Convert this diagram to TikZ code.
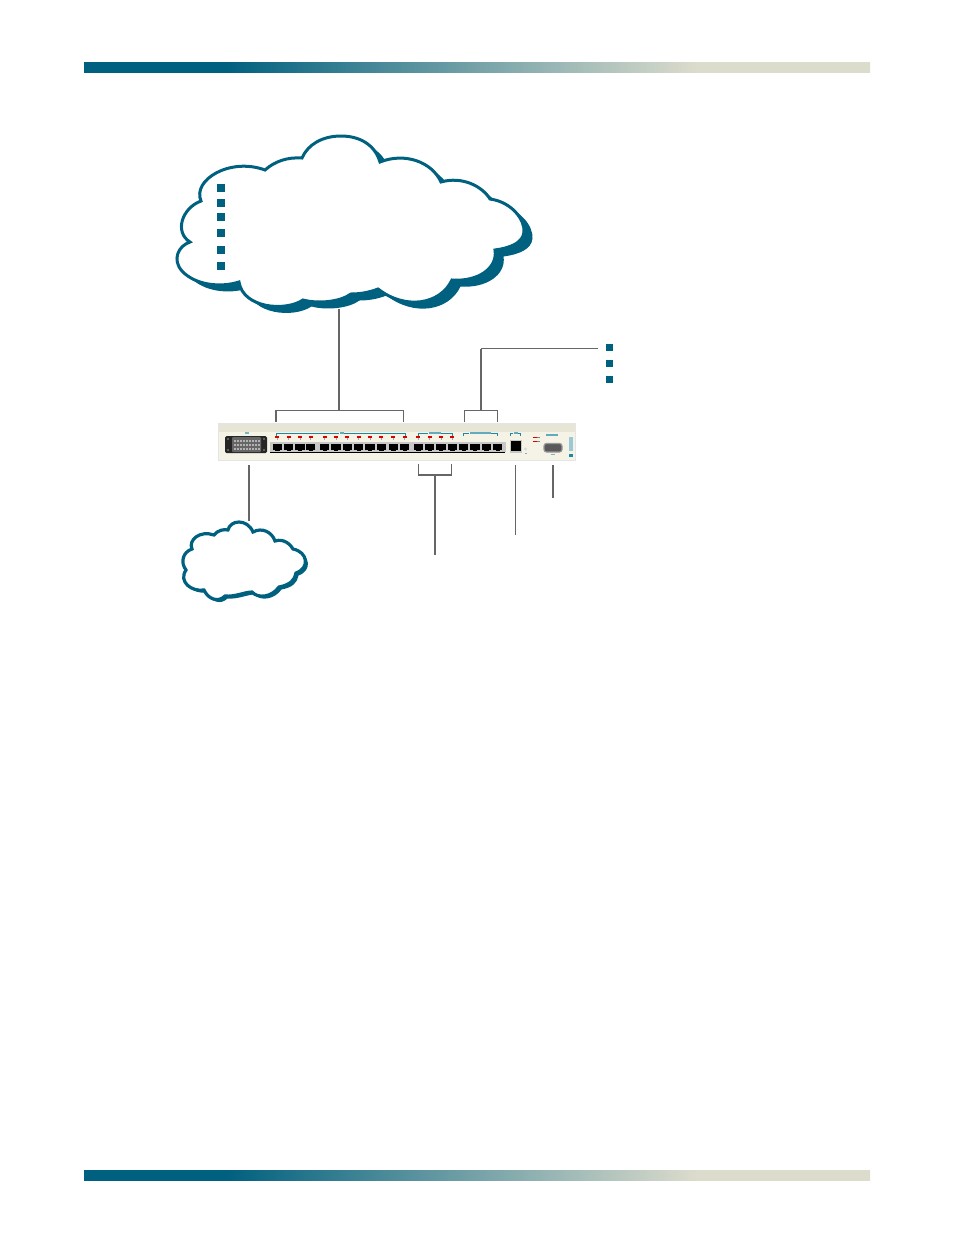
\documentclass[tikz,border=0pt]{standalone}
\definecolor{tealblue}{HTML}{00607F}
\definecolor{sand}{HTML}{DCDCCC}
\definecolor{wire}{HTML}{666666}
\definecolor{faceplate}{HTML}{F5F3E6}
\definecolor{faceband}{HTML}{E6E5D6}
\definecolor{markblue}{HTML}{1F86A5}
\pgfdeclarehorizontalshading{barshade}{100bp}{color(0bp)=(tealblue); color(34bp)=(tealblue); color(64bp)=(sand); color(100bp)=(sand)}
\tikzset{
  wireline/.style={wire, line width=2pt},
  bracketline/.style={wire, line width=1.3pt},
  thinwire/.style={wire, line width=1pt},
  bullet/.style={fill=tealblue},
  cloudline/.style={tealblue, fill=white, line join=miter},
  markline/.style={markblue, line width=0.8pt},
}
\begin{document}
\begin{tikzpicture}[x=1pt,y=-1pt]
    \useasboundingbox (0,0) rectangle (954,1235);
    % header and footer bars
    \foreach \ybar in {62,1170}
      \shade [shading=barshade] (84,\ybar) rectangle (870,\ybar+10);
    % connector from the big cloud
    \coordinate (bigcloud) at (339.3,309);
    \coordinate (lineside) at (339.3,410.5);
    \draw [wireline] (bigcloud) -- (lineside);
    % big cloud
    \def\bigcloudpath{
      (265,170) .. controls (275,161) and (288,157) .. (302,158)
      .. controls (308,144) and (323,136) .. (341,136)
      .. controls (360,136) and (375,145) .. (380,162)
      .. controls (405,152) and (432,162) .. (441,182)
      .. controls (462,176) and (482,186) .. (490,199)
      .. controls (512,202) and (525,220) .. (524,232)
      .. controls (523,243) and (510,248) .. (495,250)
      .. controls (498,268) and (478,282) .. (452,280)
      .. controls (440,305) and (405,310) .. (378,289)
      .. controls (368,293) and (358,294) .. (351,294)
      .. controls (340,302) and (318,304) .. (303,300)
      .. controls (285,312) and (243,308) .. (239,282)
      .. controls (220,288) and (195,285) .. (182,271)
      .. controls (172,260) and (178,246) .. (190,242)
      .. controls (174,232) and (182,208) .. (201,201)
      .. controls (192,180) and (230,157) .. (265,170) -- cycle}
    \fill [tealblue, shift={(8.5,6.5)}] \bigcloudpath;
    \draw [cloudline, line width=3pt] \bigcloudpath;
    \foreach \ybul in {187.5,202.5,216.5,232.5,249.5,265.5}
      \fill [bullet] (217,\ybul-4) rectangle (225,\ybul+4);
    % small cloud
    \def\smallcloudpath{
      (214,535) .. controls (218,530) and (224,529) .. (228,530)
      .. controls (230,520) and (247,518) .. (253,532)
      .. controls (262,527) and (272,532) .. (275,541)
      .. controls (284,538) and (291,545) .. (293,549)
      .. controls (308,552) and (310,568) .. (296,573)
      .. controls (295,580) and (290,585) .. (279,587)
      .. controls (272,597) and (258,599) .. (252,592)
      .. controls (245,592) and (235,597) .. (225,596)
      .. controls (218,603) and (208,599) .. (204,590)
      .. controls (192,592) and (178,582) .. (186,570)
      .. controls (180,562) and (183,552) .. (192,549)
      .. controls (188,540) and (200,530) .. (214,535) -- cycle}
    \fill [tealblue, shift={(2.5,2.5)}] \smallcloudpath;
    \draw [cloudline, line width=3.2pt] \smallcloudpath;
    % device
    \fill [faceplate] (218,423) rectangle (576,461);
    \draw [black!10, line width=1pt] (218.5,423.5) rectangle (575.5,460.5);
    \fill [faceband] (219,424) rectangle (575,431.5);
    % D connector
    \fill [black!85, rounded corners=1.5pt] (225,436) rectangle (267,453);
    \fill [black!60, rounded corners=1pt] (232,437) rectangle (261,452);
    \foreach \xpin in {234,237,...,258} {
      \fill [black!30] (\xpin,440) rectangle +(1.5,1.5);
      \fill [black!30] (\xpin,444) rectangle +(1.5,1.5);
      \fill [black!30] (\xpin,448) rectangle +(1.5,1.5);
    }
    \foreach \xscrew/\yscrew in {228/439,228/450,264/439,264/450}
      \fill [black!40] (\xscrew,\yscrew) circle (0.9pt);
    \fill [markblue!60] (245,432) rectangle (249,433.5);
    % port frame
    \fill [black!22] (270,442) rectangle (506,452);
    \draw [black, line width=1pt] (270,452.5) -- (505,452.5);
    \foreach \xport in {277.3,288.7,300,310.7,324.7,336,347.3,358.7,370,381.3,393.3,404.7,418.3,429.7,441,452.3,463.7,475,486.3,497.7} {
      \fill [black] (\xport-4.7,443.5) rectangle (\xport+4.7,449.5);
      \fill [black] (\xport-2.2,449.4) rectangle (\xport+2.2,451);
    }
    % status arrows
    \foreach \xport in {277.3,288.7,300,310.7,324.7,336,347.3,358.7,370,381.3,393.3,404.7,418.3,429.7,441,452.3} {
      \draw [black!35, line width=1pt] (\xport,436) -- (\xport,440);
      \fill [red!85!black] (\xport-2,436.2) rectangle (\xport+2,437.8);
    }
    % group brackets on the faceplate
    \draw [markline] (276,436) |- (339,433) (344,433) -| (405,436);
    \draw [markline] (418,436) |- (428,433) (441,433) -| (452,436);
    \draw [markline] (463.5,436) |- (469,433) (491,433) -| (497.5,436);
    \draw [markline] (510.5,436) |- (513,433) (518,433) -| (520.5,436);
    \fill [markblue!70] (340,432) rectangle (344,433.5);
    \fill [markblue!70] (429,432) rectangle (441,433.5);
    \fill [markblue!70] (470,432) rectangle (491,433.5);
    \fill [markblue!70] (514,432) rectangle (518,433.5);
    % craft jack, led and serial port
    \fill [black!22] (510,440) rectangle (522,453);
    \fill [black] (511,441) rectangle (521,451);
    \fill [black!15] (525.5,449) circle (1.6pt);
    \fill [markblue!60] (525,452.5) rectangle (526.5,453.5);
    \fill [red!85!black] (533,436.5) rectangle (537,438.3);
    \fill [red!85!black] (533,440.5) rectangle (537,442.3);
    \fill [black!50] (537,437) rectangle (540,438.3);
    \fill [black!50] (537,441) rectangle (540,442.3);
    \fill [markblue!70] (546,434) rectangle (558,436);
    \draw [black!40, fill=black!65, line width=1.2pt, rounded corners=2.5pt] (544,443.5) rectangle (562,452);
    \fill [markblue!60] (551,453.5) rectangle (555,454.5);
    \fill [markblue!45] (569,437) rectangle (572.5,451);
    \fill [markblue] (569,454) rectangle (572.5,457);
    % connectors
    \coordinate (trunkside) at (481,410.5);
    \coordinate (trunkend) at (598,348.5);
    \coordinate (trunkknee) at (481,348.5);
    \coordinate (ethside) at (435,475);
    \coordinate (ethend) at (435,555);
    \coordinate (dside) at (248.7,465);
    \coordinate (smallcloud) at (248.7,521);
    \coordinate (craftside) at (515.7,465);
    \coordinate (craftend) at (515.7,535);
    \coordinate (serialside) at (553,465);
    \coordinate (serialend) at (553,498);
    \draw [bracketline] (276,422) -- (276,410.5) -- (403.3,410.5) -- (403.3,422);
    \draw [thinwire] (trunkend) -- (trunkknee);
    \draw [wireline] (trunkknee) -- (trunkside);
    \draw [bracketline] (464.7,422) -- (464.7,410.5) -- (497.7,410.5) -- (497.7,422);
    \draw [bracketline] (418.5,464) -- (418.5,475) -- (451.2,475) -- (451.2,464);
    \draw [wireline] (ethside) -- (ethend);
    \draw [wireline] (dside) -- (smallcloud);
    \draw [thinwire] (craftside) -- (craftend);
    \draw [wireline] (serialside) -- (serialend);
    \foreach \ybul in {347.5,363,379}
      \fill [bullet] (606,\ybul-3.5) rectangle (613,\ybul+3.5);
  \end{tikzpicture}
\end{document}
